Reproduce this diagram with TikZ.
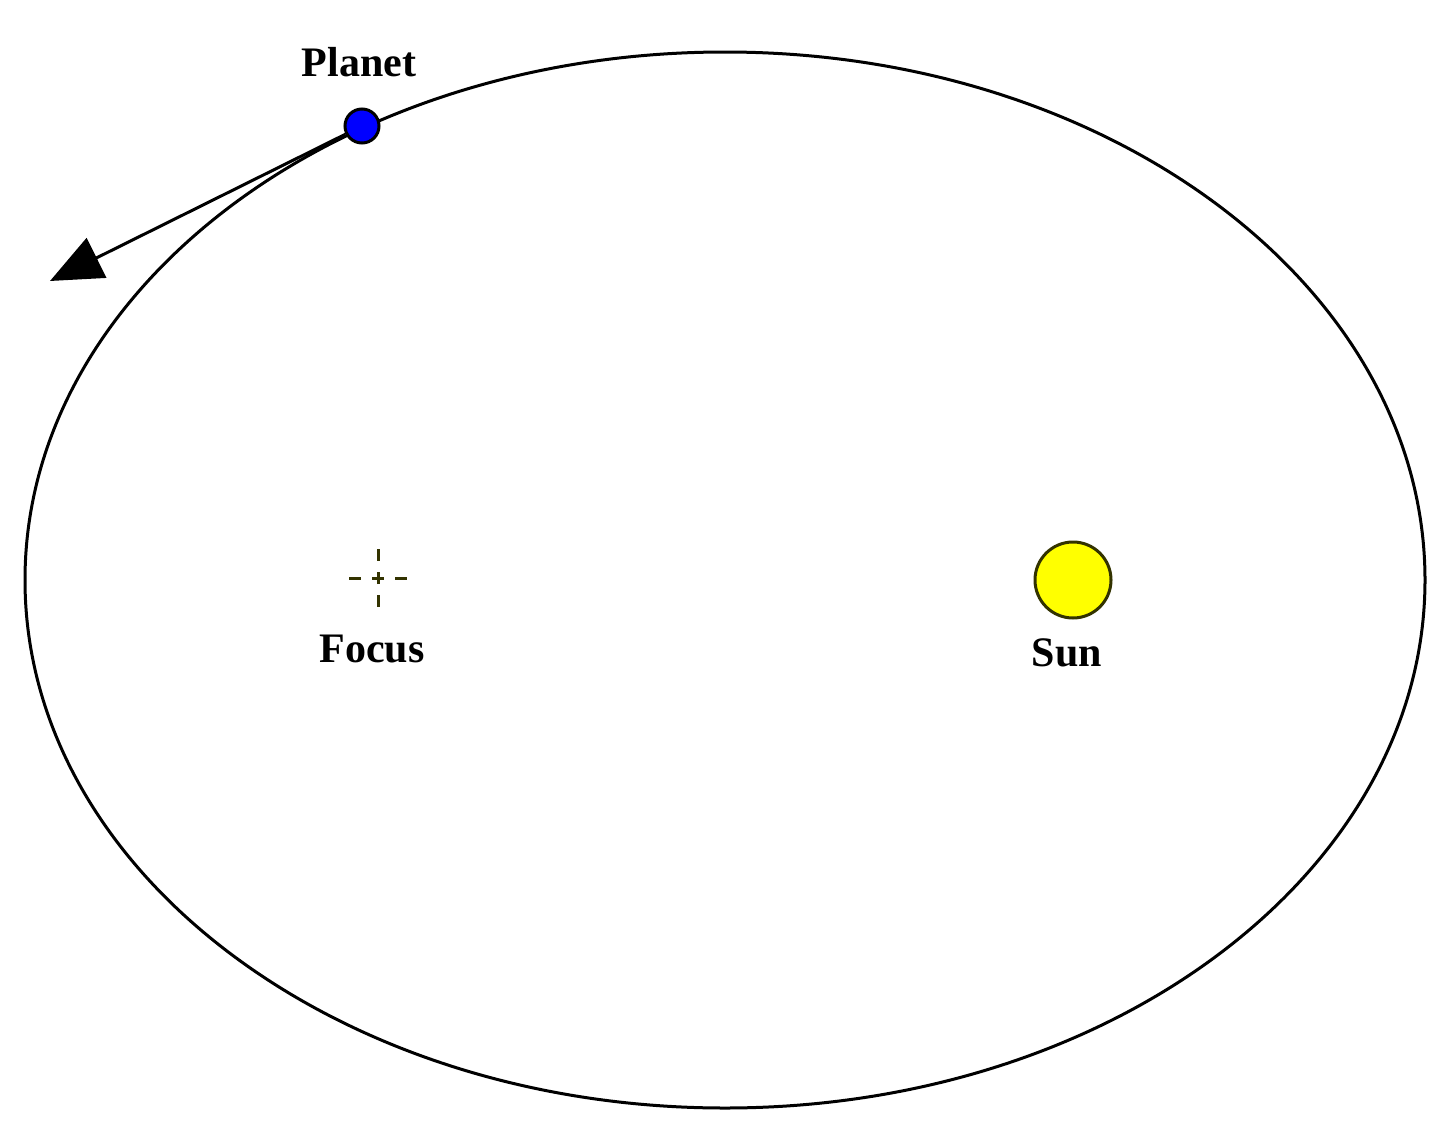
\documentclass[tikz,border=0pt]{standalone}
\usepackage{fontspec}
\setmainfont{Liberation Serif}
\usetikzlibrary{arrows.meta}
\definecolor{planetblue}{RGB}{0,0,255}
\definecolor{sunyellow}{RGB}{255,255,0}
\definecolor{olive}{RGB}{51,51,0}
\tikzset{
  lbl/.style={font=\fontsize{42}{50}\selectfont\bfseries, inner sep=0pt, anchor=base},
  orbit/.style={draw=black, line width=3pt},
  body/.style={circle, draw, inner sep=0pt},
  cross/.style={draw=olive, line width=3pt}
}
\begin{document}
\begin{tikzpicture}[x=1pt,y=-1pt]
\useasboundingbox[fill=white] (0,0) rectangle (1440,1135);
% orbit
\draw[orbit] (725,580) ellipse [x radius=700pt, y radius=528pt];
% planet and velocity arrow
\node[body, fill=planetblue, line width=3pt, minimum size=34pt] (planet) at (362,126) {};
\coordinate (tip) at (50,281);
\draw[line width=3pt, -{Triangle[length=52pt,width=44pt]}] (planet) -- (tip);
% focus crosshair
\coordinate (focus) at (378,578);
\draw[cross] ([xshift=-29pt]focus) -- ([xshift=-17pt]focus);
\draw[cross] ([xshift=17pt]focus) -- ([xshift=29pt]focus);
\draw[cross] ([xshift=-6pt]focus) -- ([xshift=6pt]focus);
\draw[cross] ([yshift=29pt]focus) -- ([yshift=17pt]focus);
\draw[cross] ([yshift=-17pt]focus) -- ([yshift=-29pt]focus);
\draw[cross] ([yshift=-6pt]focus) -- ([yshift=6pt]focus);
% sun
\node[body, fill=sunyellow, draw=olive, line width=3pt, minimum size=76pt] (sun) at (1073,580) {};
% labels
\node[lbl] (planetlbl) at (359,76) {Planet};
\node[lbl] (focuslbl) at (372,662) {Focus};
\node[lbl] (sunlbl) at (1067,666) {Sun};
\end{tikzpicture}
\end{document}
